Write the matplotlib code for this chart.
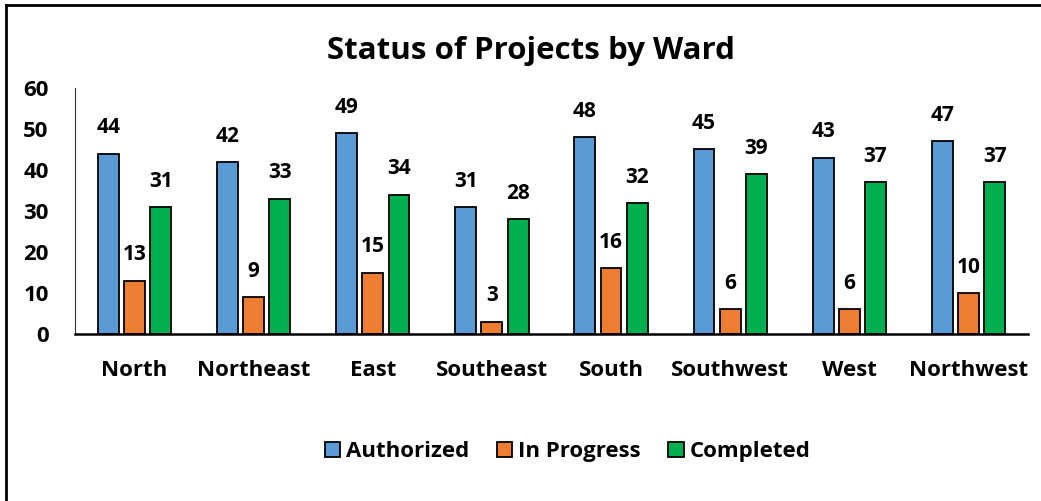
import matplotlib
matplotlib.use("Agg")
import matplotlib.pyplot as plt
import numpy as np
from matplotlib.lines import Line2D

plt.rcParams['font.family'] = ['Open Sans', 'DejaVu Sans']
plt.rcParams['font.weight'] = 'bold'

# Data
wards = ["North", "Northeast", "East", "Southeast", "South", "Southwest", "West", "Northwest"]
authorized = [44, 42, 49, 31, 48, 45, 43, 47]
in_progress = [13, 9, 15, 3, 16, 6, 6, 10]
completed = [31, 33, 34, 28, 32, 39, 37, 37]

series_names = ["Authorized", "In Progress", "Completed"]
colors = ["#5B9BD5", "#ED7D31", "#00B050"]

fig = plt.figure(figsize=(10.41, 5.01), dpi=100)
ax = fig.add_axes([0.072, 0.3333, 0.9155, 0.4911])

x = np.arange(len(wards))
bar_w = 0.175
step = 0.22

for i, (vals, name, col) in enumerate(zip([authorized, in_progress, completed], series_names, colors)):
    bars = ax.bar(x + (i - 1) * step, vals, width=bar_w, color=col,
                  edgecolor="black", linewidth=1.3, label=name)
    for b, v in zip(bars, vals):
        ax.annotate(str(v), (b.get_x() + b.get_width() / 2, v),
                    xytext=(0, 11), textcoords="offset points",
                    ha="center", va="bottom", fontsize=15, fontweight="bold")

ax.set_xlim(-0.5, len(wards) - 0.5)
ax.set_ylim(0, 60)
ax.set_yticks(range(0, 61, 10))
ax.set_xticks(x)
ax.set_xticklabels(wards)
ax.tick_params(axis="both", length=0, labelsize=16)
ax.tick_params(axis="y", pad=19)
ax.tick_params(axis="x", pad=19)

for s in ["top", "right"]:
    ax.spines[s].set_visible(False)
ax.spines["left"].set_linewidth(0.8)
ax.spines["left"].set_color("#333333")
ax.spines["bottom"].set_linewidth(1.8)

fig.text(0.51, 0.898, "Status of Projects by Ward", ha="center", va="center",
         fontsize=22.5, fontweight="bold")

fig.legend(loc="center", bbox_to_anchor=(0.545, 0.098), ncol=3, frameon=False,
           fontsize=16, handlelength=0.7, handleheight=0.7, handletextpad=0.25,
           columnspacing=1.25)

# outer frame (top and left edges visible)
fig.add_artist(Line2D([0.006, 0.006], [0, 0.99], transform=fig.transFigure, color="black", lw=2))
fig.add_artist(Line2D([0.006, 1.0], [0.99, 0.99], transform=fig.transFigure, color="black", lw=2))

fig.savefig("out.png", dpi=100)
